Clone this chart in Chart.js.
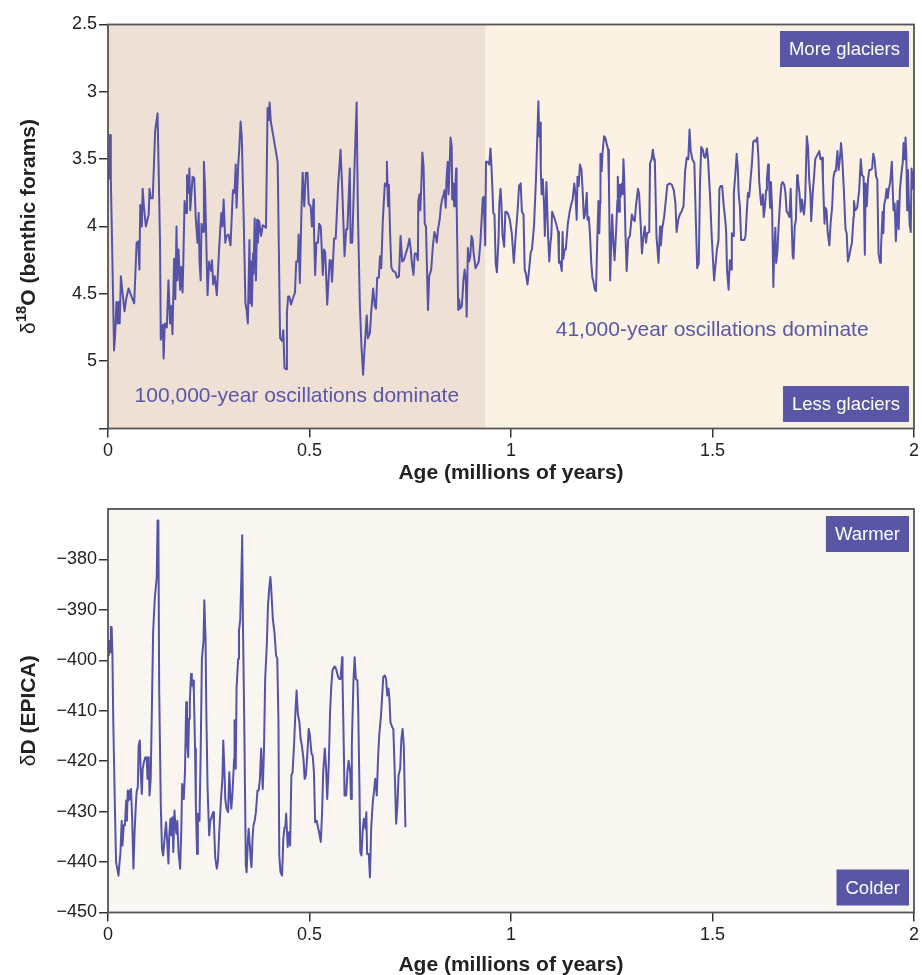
<!DOCTYPE html>
<html>
<head>
<meta charset="utf-8">
<script src="https://cdn.jsdelivr.net/npm/chart.js@4.4.1/dist/chart.umd.min.js"></script>
<style>
  html, body { margin: 0; padding: 0; background: #ffffff; }
  #wrap { position: relative; width: 922px; height: 975px; }
  #top { position: absolute; left: 0; top: 0; }
  #bottom { position: absolute; left: 0; top: 485px; }
</style>
</head>
<body>
<div id="wrap">
  <canvas id="top" width="922" height="485"></canvas>
  <canvas id="bottom" width="922" height="490"></canvas>
</div>
<script>
// benthic foram d18O stack, age in millions of years
const topAges = [0.002,0.005,0.007,0.010,0.015,0.018,0.021,0.024,0.026,0.029,0.032,0.036,0.041,0.045,0.051,0.057,0.065,0.071,0.075,0.078,0.080,0.084,0.086,0.089,0.094,0.101,0.103,0.106,0.111,0.117,0.123,0.129,0.131,0.136,0.138,0.141,0.146,0.150,0.154,0.157,0.160,0.164,0.167,0.170,0.172,0.175,0.179,0.182,0.185,0.187,0.190,0.194,0.196,0.199,0.202,0.204,0.210,0.214,0.218,0.222,0.225,0.227,0.230,0.232,0.236,0.238,0.241,0.247,0.251,0.256,0.258,0.261,0.265,0.270,0.276,0.281,0.284,0.287,0.291,0.294,0.299,0.304,0.310,0.314,0.317,0.319,0.323,0.326,0.329,0.332,0.337,0.341,0.344,0.347,0.351,0.353,0.355,0.357,0.360,0.361,0.364,0.367,0.370,0.372,0.375,0.380,0.384,0.388,0.392,0.396,0.399,0.401,0.404,0.421,0.427,0.432,0.435,0.438,0.442,0.444,0.447,0.450,0.454,0.458,0.464,0.467,0.471,0.473,0.476,0.480,0.483,0.487,0.491,0.495,0.498,
  0.503,0.506,0.510,0.511,0.514,0.517,0.521,0.524,0.528,0.533,0.536,0.539,0.544,0.550,0.553,0.556,0.561,0.565,0.571,0.577,0.581,0.587,0.591,0.594,0.600,0.602,0.606,0.612,0.617,0.620,0.625,0.629,0.633,0.637,0.642,0.645,0.650,0.653,0.658,0.662,0.665,0.668,0.672,0.675,0.678,0.682,0.687,0.690,0.692,0.695,0.697,0.700,0.703,0.707,0.713,0.717,0.722,0.726,0.730,0.734,0.739,0.744,0.748,0.751,0.754,0.758,0.761,0.765,0.769,0.770,0.773,0.775,0.778,0.780,0.783,0.786,0.789,0.794,0.797,0.802,0.806,0.810,0.813,0.816,0.819,0.823,0.826,0.829,0.833,0.835,0.838,0.840,0.843,0.845,0.848,0.850,0.853,0.854,0.857,0.859,0.861,0.864,0.865,0.869,0.871,0.874,0.878,0.882,0.885,0.888,0.890,0.893,0.896,0.899,0.902,0.905,0.907,0.912,0.917,0.920,0.924,0.927,0.930,0.932,0.936,0.938,0.942,0.946,0.949,0.951,0.954,0.956,0.959,0.962,0.965,0.969,0.971,0.974,0.976,0.979,0.983,0.986,0.989,0.993,0.997,1.002,
  1.007,1.012,1.016,1.020,1.024,1.027,1.031,1.034,1.037,1.041,1.044,1.049,1.052,1.057,1.062,1.065,1.068,1.070,1.072,1.074,1.076,1.079,1.082,1.084,1.086,1.088,1.092,1.095,1.098,1.100,1.102,1.107,1.112,1.117,1.119,1.122,1.126,1.128,1.130,1.133,1.136,1.141,1.145,1.149,1.153,1.157,1.160,1.163,1.165,1.168,1.171,1.175,1.178,1.181,1.184,1.188,1.190,1.193,1.196,1.199,1.202,1.204,1.208,1.211,1.214,1.217,1.219,1.221,1.222,1.225,1.227,1.231,1.234,1.237,1.241,1.243,1.246,1.249,1.251,1.254,1.257,1.261,1.264,1.265,1.268,1.270,1.272,1.275,1.277,1.279,1.281,1.284,1.287,1.291,1.295,1.300,1.304,1.307,1.310,1.315,1.318,1.322,1.325,1.328,1.332,1.335,1.338,1.343,1.345,1.349,1.352,1.355,1.357,1.361,1.366,1.370,1.372,1.375,1.380,1.385,1.388,1.394,1.399,1.404,1.408,1.411,1.415,1.419,1.423,1.428,1.432,1.436,1.440,1.443,1.446,1.450,1.455,1.459,1.462,1.466,1.469,1.472,1.476,1.479,1.482,1.486,1.489,1.494,1.498,1.504,
  1.507,1.511,1.515,1.517,1.520,1.524,1.528,1.532,1.534,1.536,1.540,1.543,1.546,1.548,1.551,1.553,1.557,1.560,1.563,1.565,1.568,1.571,1.575,1.579,1.582,1.585,1.588,1.591,1.595,1.598,1.601,1.605,1.608,1.611,1.614,1.616,1.619,1.621,1.625,1.627,1.630,1.633,1.635,1.638,1.640,1.643,1.645,1.648,1.651,1.653,1.656,1.658,1.661,1.664,1.668,1.671,1.674,1.678,1.681,1.684,1.687,1.691,1.694,1.696,1.699,1.701,1.704,1.707,1.710,1.712,1.716,1.719,1.722,1.725,1.727,1.730,1.734,1.737,1.740,1.743,1.745,1.749,1.752,1.755,1.760,1.765,1.768,1.772,1.774,1.778,1.780,1.783,1.786,1.790,1.793,1.797,1.800,1.803,1.806,1.810,1.813,1.816,1.819,1.822,1.826,1.830,1.833,1.836,1.840,1.843,1.846,1.850,1.851,1.854,1.859,1.864,1.868,1.871,1.875,1.878,1.880,1.883,1.886,1.889,1.893,1.896,1.899,1.902,1.906,1.909,1.912,1.916,1.918,1.922,1.924,1.926,1.929,1.932,1.935,1.937,1.941,1.945,1.949,1.952,1.955,1.959,1.962,1.965,1.969,1.972,1.974,1.977,1.979,1.981,1.983,1.985,1.987,1.989,1.992,1.994,1.997,2.000];
const topD18O = [3.65,3.32,3.65,4.10,4.92,4.79,4.56,4.72,4.56,4.72,4.37,4.49,4.63,4.54,4.46,4.51,4.57,4.12,4.11,4.32,3.84,4.00,3.72,3.85,4.00,3.91,3.72,3.79,3.79,3.29,3.16,4.10,4.84,4.73,4.98,4.72,4.75,4.40,4.72,4.59,4.80,4.24,4.54,4.00,4.40,4.17,4.47,4.30,4.49,4.25,3.81,3.90,3.62,3.75,3.57,3.88,3.63,3.64,3.95,4.12,3.90,4.25,4.40,3.98,4.04,3.52,3.73,4.51,4.26,4.33,4.25,4.43,4.37,4.51,4.15,3.90,4.00,3.80,4.12,4.07,4.06,4.14,3.73,3.75,3.54,3.86,3.55,3.41,3.22,3.34,3.98,4.57,4.62,4.72,4.10,4.57,4.26,4.59,4.20,4.35,3.94,4.40,3.95,4.12,3.96,4.07,3.99,4.00,4.01,3.12,3.21,3.08,3.22,3.52,4.83,4.85,4.77,5.05,5.06,4.64,4.52,4.52,4.58,4.54,4.49,4.26,4.26,4.06,4.42,3.89,3.60,3.85,3.60,3.60,3.83,
  3.85,4.00,3.80,4.01,4.36,4.12,4.12,3.98,4.00,4.36,4.17,4.19,4.58,4.25,4.25,4.41,4.09,4.09,3.70,3.43,3.70,4.22,4.02,4.02,3.57,4.12,4.12,3.53,3.08,3.88,4.59,4.89,5.10,4.89,4.66,4.83,4.79,4.64,4.46,4.59,4.61,4.38,4.38,4.22,4.31,3.95,3.68,3.70,3.52,3.85,3.69,4.05,4.30,4.33,4.34,4.38,4.37,4.07,4.26,4.25,4.20,4.15,4.09,4.16,4.27,4.36,4.20,4.20,4.25,3.81,3.76,3.88,3.65,3.45,3.55,3.98,4.00,4.62,4.37,4.32,4.15,4.04,4.07,4.12,4.02,3.95,3.85,3.80,3.76,3.73,3.86,3.65,3.52,3.76,3.53,3.34,3.41,3.80,3.68,3.85,3.76,3.57,3.80,4.62,4.54,4.61,4.59,4.40,4.32,4.40,4.67,4.16,4.26,4.22,4.07,4.10,4.19,4.31,4.28,4.26,4.12,3.95,3.79,3.78,4.14,3.52,3.52,3.54,3.42,3.52,3.73,3.90,3.91,4.27,4.34,4.10,3.83,3.72,3.81,4.07,4.15,3.89,3.89,3.91,3.95,4.05,
  4.27,4.05,3.90,3.70,3.68,3.89,3.91,4.32,4.35,4.43,4.35,4.19,4.17,4.00,3.65,3.36,3.07,3.33,3.23,3.58,3.76,3.65,3.84,4.07,3.85,3.67,4.07,4.26,4.12,4.07,3.89,3.93,3.98,4.04,4.27,4.26,4.33,4.04,4.24,4.17,4.17,3.98,3.90,3.84,3.80,3.68,3.76,3.95,3.63,3.70,3.54,3.58,3.75,3.94,3.91,3.75,3.95,3.93,4.06,4.26,4.38,4.40,4.47,4.48,4.11,3.81,4.05,3.83,3.46,3.59,3.46,3.33,3.34,3.38,3.43,3.67,4.40,4.10,3.91,4.12,4.25,4.02,3.81,3.63,3.89,3.69,3.78,3.68,3.76,3.50,3.64,4.05,4.33,4.09,4.07,3.91,3.95,3.96,3.85,3.72,3.76,4.00,4.20,4.09,4.00,4.12,4.05,4.04,3.53,3.50,3.43,3.50,3.52,4.07,4.27,4.00,4.14,4.02,3.93,3.78,3.69,3.68,3.69,3.73,3.83,4.04,3.95,3.91,3.89,3.85,3.59,3.49,3.50,3.28,3.44,3.50,3.53,3.99,4.31,4.27,3.68,3.41,3.43,3.48,3.49,3.42,3.50,3.78,4.07,4.40,
  4.30,4.17,4.10,3.72,3.70,3.70,3.85,3.96,4.05,4.32,4.47,4.25,4.32,4.05,4.07,3.75,3.60,3.46,3.58,3.76,3.85,4.10,4.10,4.10,4.07,3.90,3.75,3.78,3.63,3.53,3.37,3.36,3.37,3.34,3.49,3.67,3.78,3.84,3.76,3.93,3.86,3.73,3.65,3.54,3.64,3.86,3.67,3.88,4.45,4.20,4.01,4.27,4.19,4.00,3.80,3.69,3.67,3.69,3.75,3.89,3.90,3.93,3.72,3.93,4.22,4.24,4.00,3.95,3.62,3.65,3.76,3.89,3.80,3.88,3.91,3.80,3.33,3.41,3.65,3.76,3.96,3.74,3.63,3.50,3.47,3.44,3.50,3.49,3.65,3.98,3.86,3.88,4.05,4.14,3.98,3.85,3.64,3.59,3.59,3.44,3.58,3.50,3.38,3.50,3.73,4.02,4.05,4.26,4.21,4.16,4.12,3.93,3.81,3.88,3.86,3.73,3.50,3.62,3.63,4.21,3.68,3.85,3.65,3.58,3.58,3.57,3.46,3.50,3.63,3.65,4.20,4.27,4.17,3.89,4.05,3.84,3.80,3.72,3.79,3.73,3.67,3.52,3.88,3.83,4.11,3.81,4.02,3.73,3.60,3.53,3.38,3.50,3.34,3.47,3.88,3.58,3.78,3.98,4.04,3.57,3.72,3.58];

// EPICA deuterium record
const epicaAges = [0.000,0.002,0.004,0.006,0.007,0.009,0.011,0.013,0.017,0.020,0.023,0.026,0.028,0.031,0.034,0.036,0.039,0.042,0.045,0.047,0.049,0.051,0.054,0.055,0.057,0.060,0.063,0.066,0.069,0.071,0.074,0.076,0.079,0.081,0.084,0.086,0.089,0.093,0.096,0.098,0.101,0.103,0.106,0.109,0.112,0.116,0.119,0.121,0.123,0.125,0.127,0.131,0.134,0.137,0.141,0.144,0.147,0.150,0.152,0.155,0.157,0.160,0.162,0.165,0.167,0.170,0.172,0.175,0.179,0.182,0.184,0.188,0.191,0.194,0.196,0.199,0.201,0.203,0.206,0.208,0.211,0.213,0.216,0.218,0.221,0.223,0.227,0.230,0.233,0.237,0.239,0.242,0.244,0.247,0.251,0.254,0.257,0.261,0.263,0.266,0.270,0.273,0.276,0.280,0.284,0.286,0.289,0.291,0.294,0.298,0.301,0.304,0.306,0.309,0.313,0.314,0.317,0.319,0.323,0.325,0.328,0.331,0.333,0.335,0.338,0.342,0.344,0.347,0.349,0.352,0.354,0.356,0.359,0.361,0.364,0.367,0.371,0.374,
  0.377,0.380,0.384,0.387,0.390,0.394,0.397,0.400,0.403,0.405,0.409,0.413,0.417,0.420,0.423,0.425,0.428,0.432,0.435,0.438,0.440,0.442,0.446,0.449,0.452,0.455,0.458,0.462,0.465,0.468,0.471,0.475,0.478,0.481,0.485,0.488,0.491,0.495,0.498,0.501,0.505,0.508,0.511,0.514,0.518,0.521,0.524,0.528,0.531,0.534,0.538,0.541,0.544,0.548,0.551,0.554,0.557,0.561,0.564,0.567,0.571,0.574,0.577,0.581,0.582,0.585,0.587,0.591,0.594,0.597,0.601,0.603,0.605,0.609,0.612,0.615,0.619,0.621,0.624,0.626,0.629,0.632,0.635,0.639,0.641,0.643,0.647,0.650,0.653,0.657,0.660,0.663,0.667,0.670,0.673,0.677,0.680,0.683,0.687,0.690,0.693,0.696,0.698,0.701,0.705,0.708,0.711,0.715,0.718,0.721,0.725,0.728,0.731,0.734,0.736,0.738];
const epicaDD = [-399.0,-396.1,-397.1,-398.4,-393.4,-393.4,-399.0,-411.6,-428.8,-440.0,-441.3,-442.7,-440.7,-438.0,-431.8,-436.7,-432.7,-432.7,-427.8,-431.8,-425.8,-427.8,-425.8,-427.5,-425.5,-431.4,-441.3,-434.1,-428.8,-426.1,-425.1,-416.9,-415.9,-422.2,-426.5,-421.5,-420.2,-419.2,-419.2,-423.5,-419.2,-426.8,-423.5,-408.9,-394.4,-387.8,-385.2,-383.5,-372.3,-372.3,-405.6,-428.8,-437.4,-438.7,-434.7,-432.1,-436.0,-440.3,-434.7,-431.4,-434.7,-431.1,-438.0,-429.8,-432.7,-434.4,-431.8,-438.0,-441.3,-433.4,-424.5,-427.5,-422.2,-408.3,-415.6,-419.2,-411.6,-408.3,-402.7,-405.0,-404.0,-406.0,-417.5,-428.8,-438.4,-430.4,-431.8,-418.2,-399.7,-396.1,-388.1,-395.7,-410.3,-425.1,-434.7,-431.8,-431.1,-430.1,-432.4,-439.0,-441.3,-439.7,-434.1,-428.1,-423.2,-415.9,-422.2,-427.5,-429.4,-430.1,-422.2,-427.5,-429.4,-426.1,-419.5,-411.9,-421.5,-405.6,-399.7,-394.1,-392.1,-383.2,-375.2,-393.7,-411.6,-440.7,-442.0,-436.0,-433.4,-436.7,-439.4,-441.0,-434.7,-432.7,-431.8,-430.1,-425.8,-425.8,
  -423.5,-417.5,-425.5,-417.9,-403.7,-397.1,-389.1,-385.8,-383.5,-385.8,-391.8,-394.4,-399.0,-399.7,-412.3,-438.7,-442.0,-442.7,-435.4,-433.1,-433.1,-430.4,-437.0,-434.1,-436.7,-422.8,-422.2,-416.2,-410.3,-406.0,-410.6,-412.3,-415.6,-416.9,-419.5,-423.5,-422.8,-418.2,-413.6,-414.9,-418.5,-418.9,-422.2,-432.1,-431.8,-433.1,-434.1,-436.0,-430.8,-422.2,-417.5,-421.2,-427.5,-420.2,-410.3,-405.3,-402.0,-401.3,-401.3,-402.0,-403.3,-403.7,-403.7,-399.4,-403.7,-416.9,-426.8,-426.8,-422.2,-419.9,-422.2,-427.5,-416.9,-404.3,-399.4,-403.7,-404.0,-410.3,-425.5,-438.0,-438.7,-433.7,-431.4,-433.4,-430.1,-438.4,-438.4,-443.0,-433.4,-428.1,-426.1,-423.5,-426.8,-419.5,-414.9,-411.3,-407.6,-403.3,-403.0,-403.7,-407.0,-405.6,-407.3,-412.3,-413.2,-413.6,-420.8,-432.4,-428.8,-422.8,-421.5,-415.6,-413.6,-416.9,-424.8,-433.1];

const xTickValues = [0, 0.5, 1, 1.5, 2];
const xTickLabels = ['0', '0.5', '1', '1.5', '2'];
const topYTickValues = [2.5, 3, 3.5, 4, 4.5, 5, 5.5];
const topYTickLabels = ['2.5', '3', '3.5', '4', '4.5', '5', ''];
const epicaYTickValues = [-450, -440, -430, -420, -410, -400, -390, -380];
const epicaYTickLabels = ['\u2212450', '\u2212440', '\u2212430', '\u2212420', '\u2212410', '\u2212400', '\u2212390', '\u2212380'];

const transitionAge = 0.937; // end of the 100,000-year regime shading
const topNotes = [
  { text: '100,000-year oscillations dominate', x: 0.066, y: 5.26 },
  { text: '41,000-year oscillations dominate', x: 1.111, y: 4.77 },
];

const FONT = "'Liberation Sans', Arial, Helvetica, sans-serif";
const LINE = '#5553a8';
const BOX = '#5a56a6';
Chart.defaults.font.family = FONT;
Chart.defaults.color = '#222';

const decor = {
  id: 'decor',
  beforeDatasetsDraw(chart, args, o) {
    const { ctx, chartArea: a, scales: { x } } = chart;
    ctx.save();
    if (o.split != null) {
      const xs = x.getPixelForValue(o.split);
      ctx.fillStyle = o.bgLeft;
      ctx.fillRect(a.left, a.top, xs - a.left, a.height);
      ctx.fillStyle = o.bgRight;
      ctx.fillRect(xs, a.top, a.right - xs, a.height);
    } else {
      ctx.fillStyle = o.bg;
      ctx.fillRect(a.left, a.top, a.width, a.height);
    }
    ctx.restore();
  },
  afterDraw(chart, args, o) {
    const { ctx, chartArea: a, scales: { x, y } } = chart;
    ctx.save();
    // frame
    ctx.strokeStyle = '#555';
    ctx.lineWidth = 1.8;
    ctx.strokeRect(a.left, a.top, a.width, a.height);

    // tag boxes
    ctx.font = '18.5px ' + FONT;
    ctx.textBaseline = 'middle';
    ctx.textAlign = 'center';
    const h = 36;
    const box = (text, yTop) => {
      const w = ctx.measureText(text).width + 18;
      const bx = a.right - 5 - w;
      ctx.fillStyle = BOX;
      ctx.fillRect(bx, yTop, w, h);
      ctx.fillStyle = '#fff';
      ctx.fillText(text, bx + w / 2, yTop + h / 2 + 1);
    };
    box(o.upper, a.top + o.inset);
    box(o.lower, a.bottom - o.inset - h);

    // notes
    ctx.font = '21px ' + FONT;
    ctx.textAlign = 'left';
    ctx.fillStyle = BOX;
    (o.notes || []).forEach(n => {
      ctx.fillText(n.text, x.getPixelForValue(n.x), y.getPixelForValue(n.y));
    });

    // x title
    ctx.font = 'bold 21px ' + FONT;
    ctx.textAlign = 'center';
    ctx.fillStyle = '#222';
    ctx.fillText(o.xTitle, (a.left + a.right) / 2, a.bottom + o.xTitleOffset);

    // y title (rotated, with optional superscript)
    ctx.translate(29, (a.top + a.bottom) / 2);
    ctx.rotate(-Math.PI / 2);
    const parts = o.yTitle;
    let total = 0;
    parts.forEach(p => { ctx.font = p.font; p.w = ctx.measureText(p.t).width; total += p.w; });
    let cx = -total / 2;
    ctx.textAlign = 'left';
    parts.forEach(p => {
      ctx.font = p.font;
      ctx.fillText(p.t, cx, p.dy || 0);
      cx += p.w;
    });
    ctx.restore();
  }
};

function axisX(height) {
  return {
    type: 'linear', min: 0, max: 2,
    afterFit: s => { s.height = height; },
    afterBuildTicks: s => { s.ticks = xTickValues.map(v => ({ value: v })); },
    ticks: { callback: (v, i) => xTickLabels[i], font: { size: 18 }, color: '#222', padding: 3, maxRotation: 0 },
    grid: { drawOnChartArea: false, drawTicks: true, tickLength: 9, color: '#333', lineWidth: 1.5 },
    border: { display: false },
  };
}
function axisY(min, max, values, labels, reverse) {
  return {
    type: 'linear', min, max, reverse,
    afterFit: s => { s.width = 108; },
    afterBuildTicks: s => { s.ticks = values.map(v => ({ value: v })); },
    ticks: { callback: (v, i) => labels[i], font: { size: 18 }, color: '#222', padding: 2 },
    grid: { drawOnChartArea: false, drawTicks: true, tickLength: 9, color: '#333', lineWidth: 1.5 },
    border: { display: false },
  };
}

new Chart(document.getElementById('top'), {
  type: 'line',
  data: {
    datasets: [{
      data: topAges.map((a, i) => ({ x: a, y: topD18O[i] })),
      borderColor: LINE, borderWidth: 2, pointRadius: 0, tension: 0, borderJoinStyle: 'round',
    }],
  },
  options: {
    responsive: false, animation: false, devicePixelRatio: 1,
    layout: { padding: { top: 24.5, right: 8, left: 0, bottom: 0 } },
    plugins: {
      legend: { display: false }, tooltip: { enabled: false },
      decor: {
        split: transitionAge, bgLeft: '#efe0d5', bgRight: '#fbf2e4',
        upper: 'More glaciers', lower: 'Less glaciers', inset: 6.5,
        notes: topNotes,
        xTitle: 'Age (millions of years)', xTitleOffset: 45,
        yTitle: [
          { t: '\u03b4', font: '21px ' + FONT },
          { t: '18', font: 'bold 15px ' + FONT, dy: -7 },
          { t: 'O (benthic forams)', font: 'bold 21px ' + FONT },
        ],
      },
    },
    scales: {
      x: axisX(56.5),
      y: axisY(2.5, 5.5, topYTickValues, topYTickLabels, true),
    },
  },
  plugins: [decor],
});

new Chart(document.getElementById('bottom'), {
  type: 'line',
  data: {
    datasets: [{
      data: epicaAges.map((a, i) => ({ x: a, y: epicaDD[i] })),
      borderColor: LINE, borderWidth: 2, pointRadius: 0, tension: 0, borderJoinStyle: 'round',
    }],
  },
  options: {
    responsive: false, animation: false, devicePixelRatio: 1,
    layout: { padding: { top: 24, right: 8, left: 0, bottom: 0 } },
    plugins: {
      legend: { display: false }, tooltip: { enabled: false },
      decor: {
        bg: '#f9f6f1',
        upper: 'Warmer', lower: 'Colder', inset: 7,
        notes: [],
        xTitle: 'Age (millions of years)', xTitleOffset: 53,
        yTitle: [
          { t: '\u03b4', font: '21px ' + FONT },
          { t: 'D (EPICA)', font: 'bold 21px ' + FONT },
        ],
      },
    },
    scales: {
      x: axisX(62.5),
      y: axisY(-450, -370, epicaYTickValues, epicaYTickLabels, false),
    },
  },
  plugins: [decor],
});
</script>
</body>
</html>
